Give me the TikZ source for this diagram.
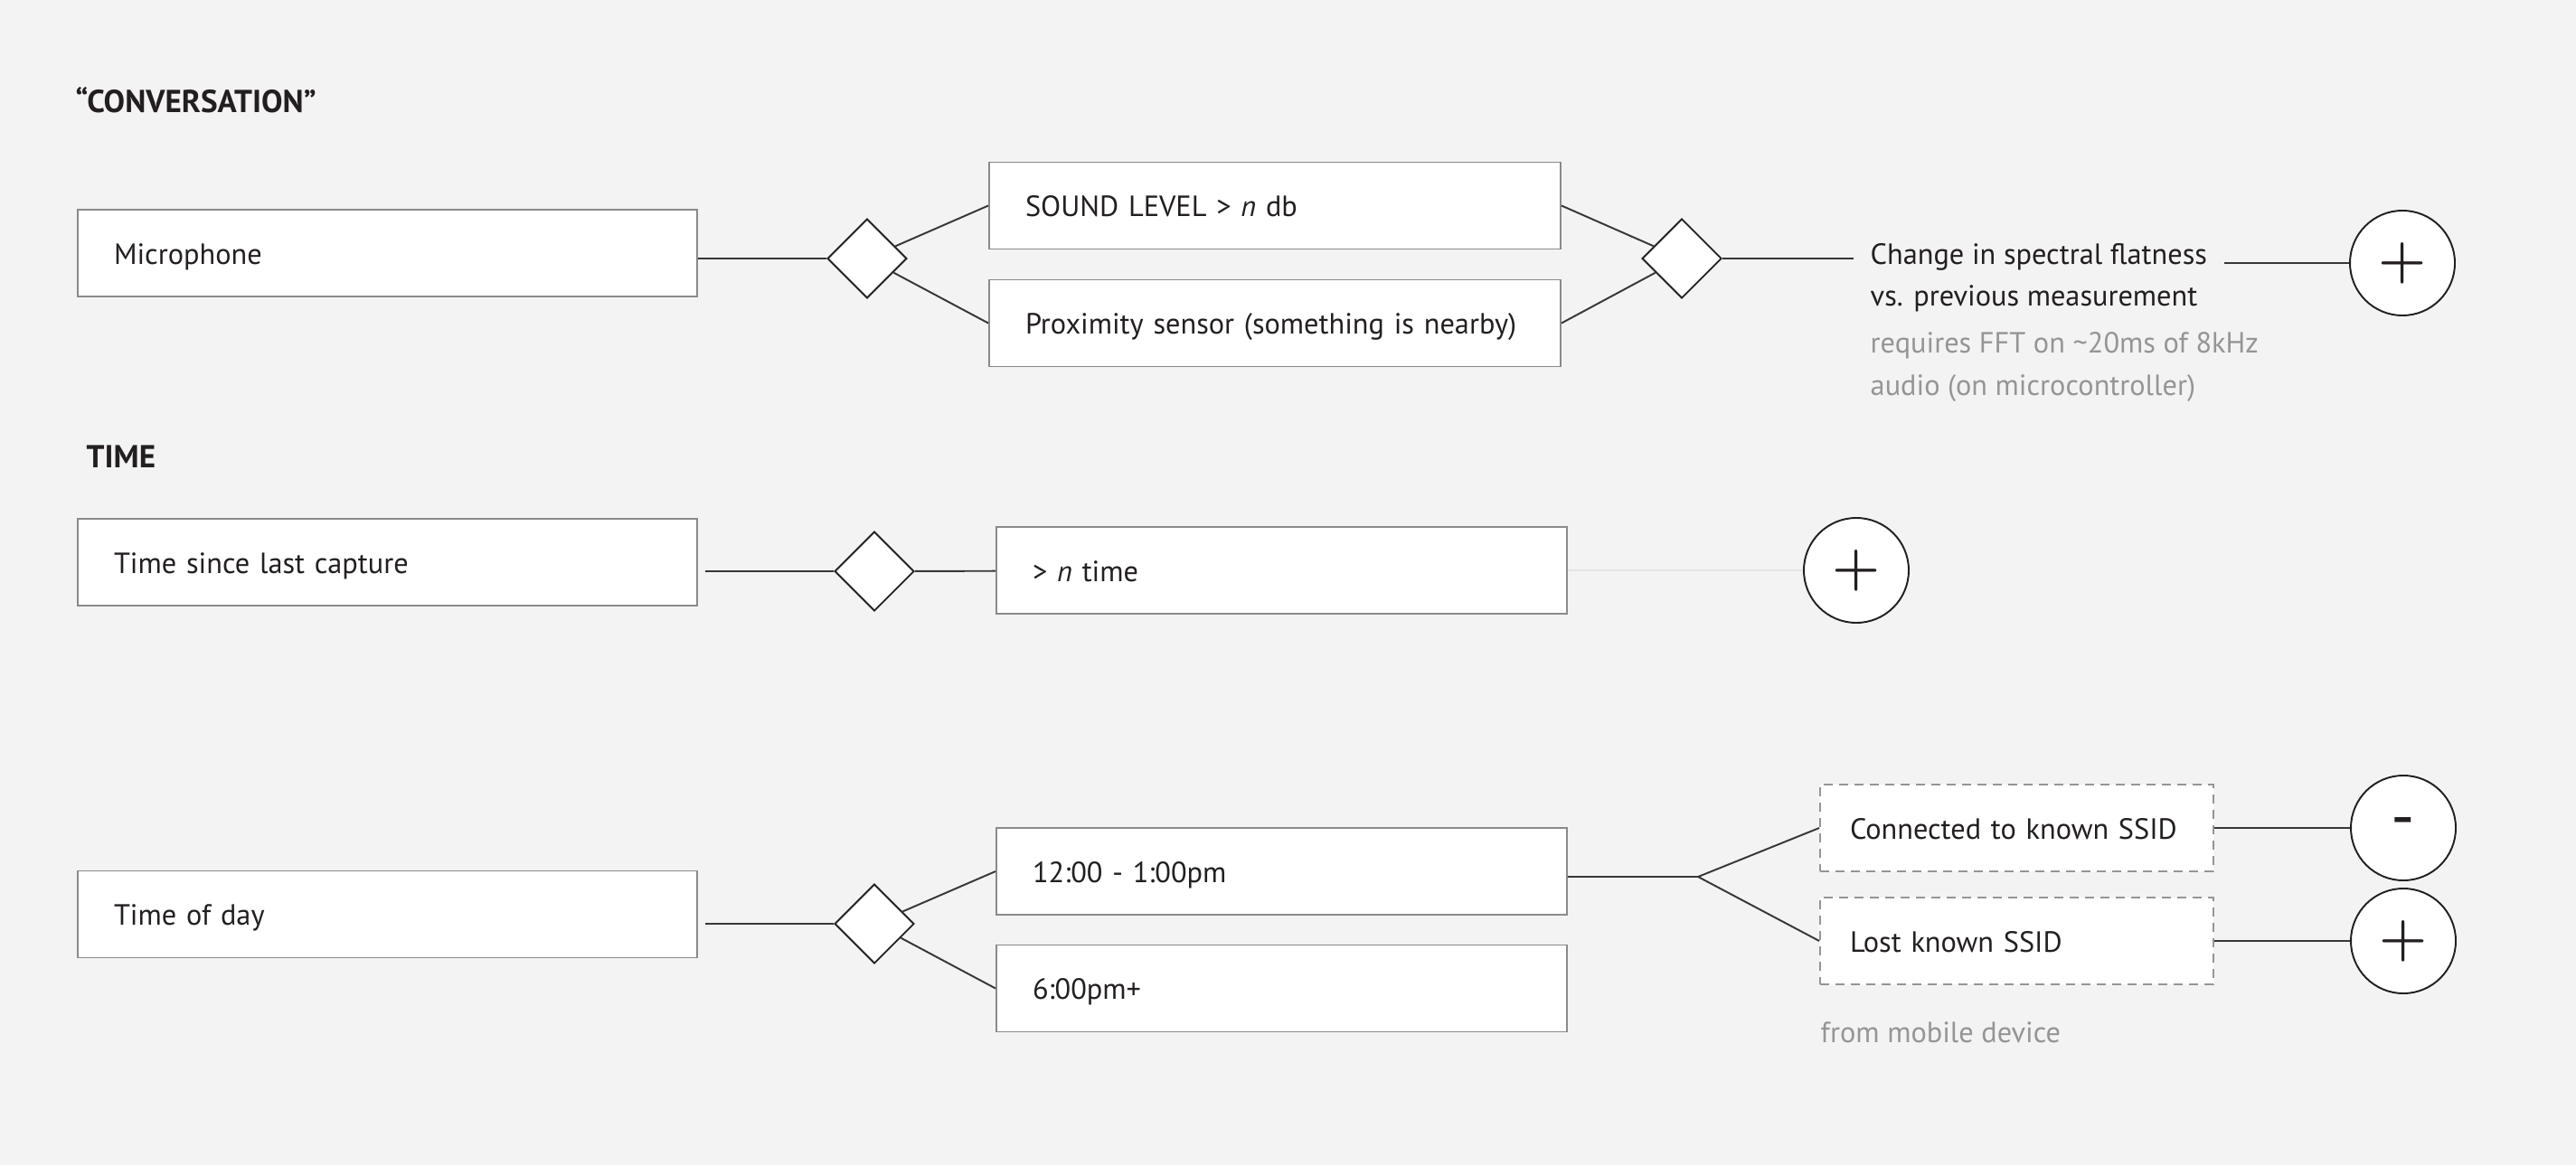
\documentclass[tikz,border=0pt]{standalone}
\usepackage{fontspec}
\setmainfont{PT Sans}
\usetikzlibrary{shapes.geometric,positioning,calc}
\definecolor{bgcol}{HTML}{F3F3F3}
\definecolor{ink}{HTML}{231F20}
\definecolor{boxgray}{HTML}{8A8A8A}
\definecolor{notegray}{HTML}{959595}
\definecolor{faint}{HTML}{E4E4E4}
\begin{document}
\begin{tikzpicture}[font=\fontsize{9.2}{11}\selectfont, text=ink,
    box/.style={draw=boxgray, fill=white, line width=0.55pt, minimum height=0.96cm,
      text width=#1, inner xsep=0.4cm, align=left, text height=0.7em, text depth=0pt},
    dbox/.style={box=#1, draw=notegray, inner xsep=0.33cm, dash pattern=on 0.1cm off 0.07cm},
    gate/.style={diamond, draw=ink, fill=white, line width=0.55pt, minimum size=0.88cm, inner sep=0pt},
    res/.style={circle, draw=ink, fill=white, line width=0.55pt, minimum size=1.16cm, inner sep=0pt,
      font=\fontsize{18}{18}\selectfont\boldmath},
    wire/.style={draw=ink!90, line width=0.55pt},
    note/.style={anchor=base west, inner sep=0pt, text=notegray},
    head/.style={anchor=base west, inner sep=0pt, font=\fontsize{10}{12}\selectfont\bfseries}]
  \fill[bgcol] (0,0) rectangle (28.49,12.89);
  \node[head] (ttlconv) at (0.83,11.65) {“CONVERSATION”};
  \node[head] (ttltime) at (0.95,7.72) {TIME};
  \node[box=6.05cm] (mic) at (4.285,10.09) {Microphone};
  \node[gate] (d1) at (9.59,10.03) {};
  \node[box=5.52cm] (snd) at (14.10,10.615) {SOUND LEVEL > \textit{n} db};
  \node[box=5.52cm] (prox) at (14.10,9.315) {Proximity sensor (something is nearby)};
  \node[gate] (d2) at (18.60,10.03) {};
  \node[anchor=base west, inner xsep=0.18cm, inner ysep=0pt] (chg) at (20.50,9.97) {Change in spectral flatness};
  \node[anchor=base west, inner sep=0pt] (chg2) at (20.68,9.51) {vs. previous measurement};
  \node[note] (fft1) at (20.68,8.99) {requires FFT on \textasciitilde 20ms of 8kHz};
  \node[note] (fft2) at (20.68,8.52) {audio (on microcontroller)};
  \node[res] (c1) at (26.57,9.98) {$+$};
  \draw[wire] (mic.east |- d1) -- (d1);
  \draw[wire] (d1) -- (snd.west);
  \draw[wire] (d1) -- (prox.west);
  \draw[wire] (snd.east) -- (d2);
  \draw[wire] (prox.east) -- (d2);
  \draw[wire] (d2) -- (d2 -| chg.west);
  \draw[wire] (chg.east |- c1) -- (c1);
  \node[box=6.05cm] (tsl) at (4.285,6.67) {Time since last capture};
  \node[gate] (d3) at (9.67,6.57) {};
  \node[box=5.51cm] (ntime) at (14.175,6.58) {> \textit{n} time};
  \node[res] (c2) at (20.53,6.58) {$+$};
  \draw[wire] ([xshift=0.08cm]tsl.east |- d3) -- (d3);
  \draw[wire] (d3) -- (ntime);
  \draw[faint, line width=0.55pt] (ntime) -- (c2);
  \node[box=6.05cm] (tod) at (4.285,2.775) {Time of day};
  \node[gate] (d4) at (9.67,2.67) {};
  \node[box=5.51cm] (noon) at (14.175,3.25) {12:00 - 1:00pm};
  \node[box=5.51cm] (eve) at (14.175,1.955) {6:00pm+};
  \coordinate (br) at (18.78,3.19);
  \node[dbox=3.69cm] (ssid) at (22.305,3.73) {Connected to known SSID};
  \node[dbox=3.69cm] (lost) at (22.305,2.48) {Lost known SSID};
  \node[res, font=\fontsize{21}{21}\selectfont] (c3) at (26.58,3.73) {-};
  \node[res] (c4) at (26.58,2.48) {$+$};
  \node[note] (mob) at (20.13,1.36) {from mobile device};
  \draw[wire] ([xshift=0.08cm]tod.east |- d4) -- (d4);
  \draw[wire] (d4) -- (noon.west);
  \draw[wire] (d4) -- (eve.west);
  \draw[wire] (noon.east |- br) -- (br) -- (ssid.west);
  \draw[wire] (br) -- (lost.west);
  \draw[wire] (ssid) -- (c3);
  \draw[wire] (lost) -- (c4);
\end{tikzpicture}
\end{document}
